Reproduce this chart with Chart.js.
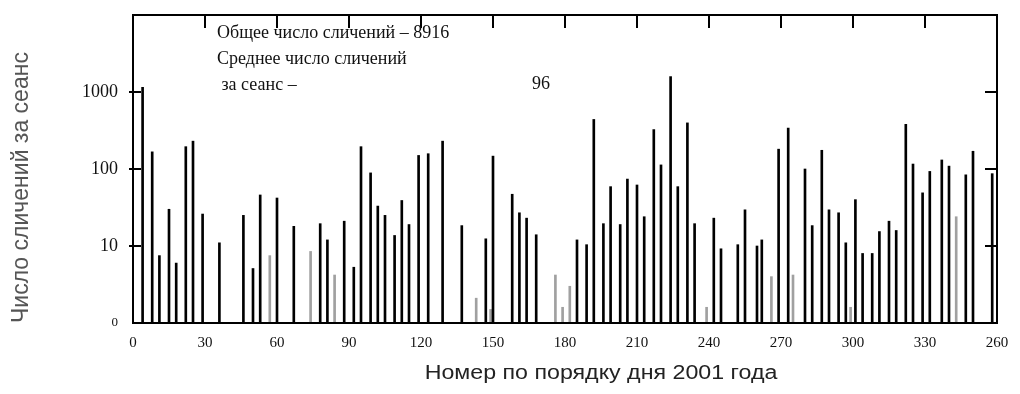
<!DOCTYPE html>
<html>
<head>
<meta charset="utf-8">
<script src="https://cdn.jsdelivr.net/npm/chart.js@4.4.1/dist/chart.umd.min.js"></script>
<style>
html,body{margin:0;padding:0;background:#fff;}
#wrap{width:1020px;height:394px;}
</style>
</head>
<body>
<div id="wrap"><canvas id="c" width="1020" height="394"></canvas></div>
<script>
// ---- data ----
const days   = [4,8,11,15,18,22,25,29,36,46,50,53,60,67,78,81,88,92,95,99,102,105,109,112,115,119,123,129,137,147,150,158,161,164,168,185,189,192,196,199,203,206,210,213,217,220,224,227,231,234,242,245,252,255,260,262,269,273,280,283,287,290,294,297,301,304,308,311,315,318,322,325,329,332,337,340,347,350,358];
const counts = [1150,167,7.5,30,6,195,230,26,11,25,5.1,46,42,18,19.5,12,21,5.3,195,89,33,25,13.7,39,19,150,158,230,18.4,12.4,147,47,27,23,14,12,10.4,440,19.5,59,19,74,62,24,325,113,1585,59,397,19.5,23,9.2,10.4,29.5,10,12,181,340,100,18.4,175,29.5,27,11,40,8,8,15.4,21,15.9,380,116,49,93,131,109,84,170,87];
const faintDays   = [57,74,84,143,149,176,179,182,239,266,275,299,343];
const faintCounts = [7.5,8.5,4.2,2.1,1.5,4.2,1.6,3,1.6,4,4.2,1.6,24];

const xTickValues = [0,30,60,90,120,150,180,210,240,270,300,330,360];
const xTickLabels = ["0","30","60","90","120","150","180","210","240","270","300","330","260"];
const yTickValues = [1,10,100,1000];
const yTickLabels = ["0","10","100","1000"];
const xTitle = "Номер по порядку дня 2001 года";
const yTitle = "Число сличений за сеанс";
const noteLines = ["Общее число сличений – 8916", "Среднее число сличений", " за сеанс –"];
const noteValue = "96";

// ---- plugins ----
const framePlugin = {
  id: 'frame',
  afterDatasetsDraw(chart) {
    const {ctx, chartArea: a, scales: {x, y}} = chart;
    ctx.save();
    ctx.strokeStyle = '#000';
    ctx.lineWidth = 2;
    ctx.strokeRect(a.left, a.top, a.right - a.left, a.bottom - a.top);
    ctx.beginPath();
    yTickValues.slice(1).forEach(v => {
      const py = Math.round(y.getPixelForValue(v));
      ctx.moveTo(a.left - 4, py); ctx.lineTo(a.left + 8, py);
      ctx.moveTo(a.right, py); ctx.lineTo(a.right - 12, py);
    });
    xTickValues.slice(1, -1).forEach(v => {
      const px = Math.round(x.getPixelForValue(v));
      ctx.moveTo(px, a.top); ctx.lineTo(px, a.top + 13);
    });
    ctx.stroke();
    ctx.restore();
  }
};

const notePlugin = {
  id: 'notes',
  afterDraw(chart) {
    const {ctx} = chart;
    ctx.save();
    ctx.fillStyle = '#111';
    ctx.textBaseline = 'middle';
    ctx.font = '18px "Liberation Serif"';
    const pos = [[217, 33], [217, 59], [217, 85]];
    ctx.textAlign = 'left';
    noteLines.forEach((t, i) => ctx.fillText(t, pos[i][0], pos[i][1]));
    ctx.textAlign = 'right';
    ctx.fillText(noteValue, 550, 84);
    // x axis title
    ctx.save();
    ctx.fillStyle = '#222';
    ctx.font = '20px "Liberation Sans"';
    ctx.translate(601, 373);
    ctx.scale(1.16, 1);
    ctx.textAlign = 'center';
    ctx.textBaseline = 'middle';
    ctx.fillText(xTitle, 0, 0);
    ctx.restore();
    ctx.restore();
  }
};

new Chart(document.getElementById('c'), {
  type: 'bar',
  data: {
    datasets: [
      { label: 'Число сличений', data: days.map((d, i) => ({x: d, y: counts[i]})),
        backgroundColor: '#000', barThickness: 2, grouped: false },
      { label: 'слабые', data: faintDays.map((d, i) => ({x: d, y: faintCounts[i]})),
        backgroundColor: '#a0a0a0', barThickness: 2, grouped: false }
    ]
  },
  options: {
    responsive: false,
    animation: false,
    devicePixelRatio: 1,
    layout: { padding: { top: 15, right: 23, left: 0, bottom: 0 } },
    plugins: { legend: { display: false }, tooltip: { enabled: false } },
    scales: {
      x: {
        type: 'linear', min: 0, max: 360, offset: false,
        grid: { display: false }, border: { display: false },
        afterBuildTicks: s => { s.ticks = xTickValues.map(v => ({value: v})); },
        ticks: {
          autoSkip: false, maxRotation: 0, minRotation: 0, padding: 3, color: '#111',
          font: { family: 'Liberation Serif', size: 15 },
          callback: v => xTickLabels[xTickValues.indexOf(v)]
        },
        afterFit: s => { s.height = 71; s.paddingLeft = 0; s.paddingRight = 0; }
      },
      y: {
        type: 'logarithmic', min: 1, max: 10000,
        grid: { display: false }, border: { display: false },
        afterBuildTicks: s => { s.ticks = yTickValues.map(v => ({value: v})); },
        ticks: {
          padding: 7, color: '#111',
          font: c => ({ family: 'Liberation Serif', size: (c.tick && c.tick.value === 1) ? 13 : 18 }),
          callback: v => yTickLabels[yTickValues.indexOf(v)]
        },
        title: {
          display: true, text: yTitle, align: 'start', color: '#555',
          font: { family: 'Liberation Sans', size: 23 },
          padding: { top: 8, bottom: 0 }
        },
        afterFit: s => { s.width = 133; s.paddingTop = 0; s.paddingBottom = 0; }
      }
    }
  },
  plugins: [framePlugin, notePlugin]
});
</script>
</body>
</html>
